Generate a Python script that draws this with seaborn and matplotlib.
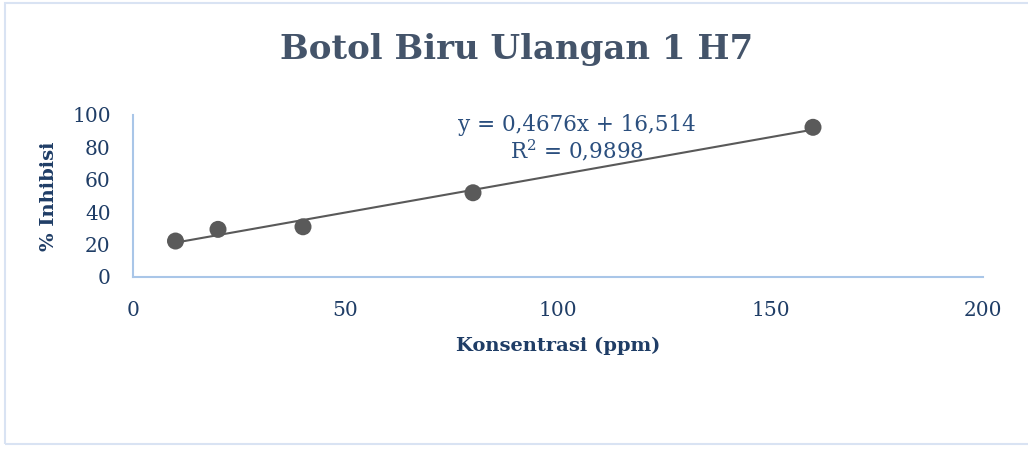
import matplotlib
matplotlib.use("Agg")
import matplotlib.pyplot as plt
import seaborn as sns
import numpy as np
import pandas as pd
from matplotlib.patches import Rectangle

konsentrasi = [10, 20, 40, 80, 160]
inhibisi = [22.2, 29.4, 31.0, 52.0, 92.4]
x_ticks = [0, 50, 100, 150, 200]
y_ticks = [0, 20, 40, 60, 80, 100]
title = "Botol Biru Ulangan 1 H7"
xlabel = "Konsentrasi (ppm)"
ylabel = "% Inhibisi"
eq_text = "y = 0,4676x + 16,514"
r2_text = "R$^2$ = 0,9898"

sns.set_theme(style="white")
plt.rcParams['font.family'] = ['DejaVu Serif']
plt.rcParams['mathtext.fontset'] = 'dejavuserif'

df = pd.DataFrame({"x": konsentrasi, "y": inhibisi})

fig = plt.figure(figsize=(10.28, 4.5), dpi=100)
ax = fig.add_axes([133/1028, 1-277/450, 850/1028, 162/450])

sns.regplot(data=df, x="x", y="y", ax=ax, ci=None, truncate=True,
            scatter_kws=dict(s=150, color="#5a5a5a", alpha=1, edgecolor="none", zorder=3),
            line_kws=dict(color="#595959", lw=1.5, zorder=2))

ax.set_xlim(0, 200)
ax.set_ylim(0, 100)
ax.set_xticks(x_ticks)
ax.set_yticks(y_ticks)
ax.tick_params(axis="both", length=0, labelsize=14.5, colors="#1f3d66")
ax.tick_params(axis="y", pad=16)
ax.tick_params(axis="x", pad=17)
for s in ["top", "right"]:
    ax.spines[s].set_visible(False)
for s in ["left", "bottom"]:
    ax.spines[s].set_color("#a9c6e8")
    ax.spines[s].set_linewidth(1.5)
ax.set_xlabel(xlabel, fontsize=14, fontweight="bold", color="#1f3d66", labelpad=12)
ax.set_ylabel(ylabel, fontsize=14, fontweight="bold", color="#1f3d66", labelpad=10)

fig.text(517/1028, 1-50/450, title, ha="center", va="center", fontsize=24.5,
         fontweight="bold", color="#44546a")
fig.text(577/1028, 1-125/450, eq_text, ha="center", va="center", fontsize=15.5, color="#2b4f7e")
fig.text(577/1028, 1-151/450, r2_text, ha="center", va="center", fontsize=15.5, color="#2b4f7e")

fig.add_artist(Rectangle((5/1028, 1-444/450), 1030/1028, 441/450, transform=fig.transFigure,
                         fill=False, edgecolor="#d9e3f3", lw=1.5))

fig.savefig("out.png", dpi=100)
